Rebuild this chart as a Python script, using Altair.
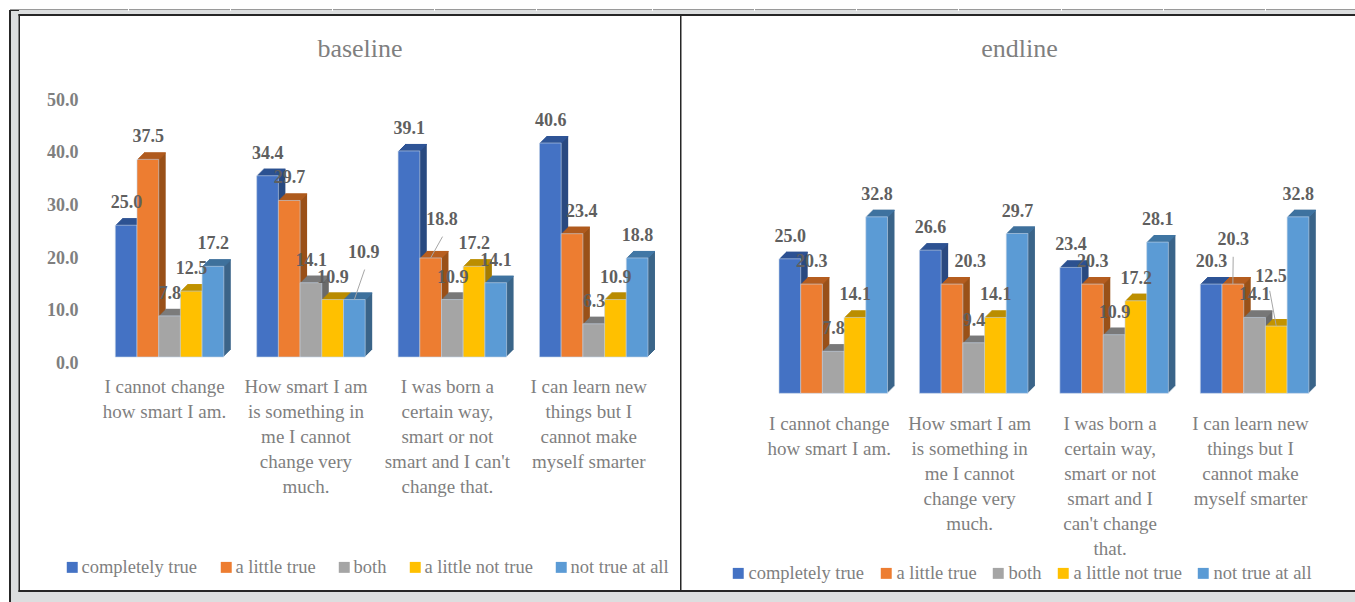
import altair as alt
import pandas as pd

# Answer categories, shared by both survey rounds
series = ["completely true", "a little true", "both", "a little not true", "not true at all"]
front_colors = ["#4472C4", "#ED7D31", "#A5A5A5", "#FFC000", "#5B9BD5"]
top_colors = ["#2F5597", "#B85F20", "#7F7F7F", "#C49500", "#4177A6"]
side_colors = ["#2A4A80", "#9A5119", "#6B6B6B", "#A67D00", "#3B6589"]

# Statements, "|" marks a line break in the axis label
baseline_statements = [
    "I cannot change|how smart I am.",
    "How smart I am|is something in|me I cannot|change very|much.",
    "I was born a|certain way,|smart or not|smart and I can't|change that.",
    "I can learn new|things but I|cannot make|myself smarter",
]
endline_statements = [
    "I cannot change|how smart I am.",
    "How smart I am|is something in|me I cannot|change very|much.",
    "I was born a|certain way,|smart or not|smart and I|can't change|that.",
    "I can learn new|things but I|cannot make|myself smarter",
]

# Percentages, one list per answer, in statement order
baseline_values = [
    [25.0, 34.4, 39.1, 40.6],
    [37.5, 29.7, 18.8, 23.4],
    [7.8, 14.1, 10.9, 6.3],
    [12.5, 10.9, 17.2, 10.9],
    [17.2, 10.9, 14.1, 18.8],
]
endline_values = [
    [25.0, 26.6, 23.4, 20.3],
    [20.3, 20.3, 20.3, 20.3],
    [7.8, 9.4, 10.9, 14.1],
    [14.1, 14.1, 17.2, 12.5],
    [32.8, 29.7, 28.1, 32.8],
]

FONT = "Liberation Serif"
GREY_TEXT = "#7F7F7F"
LABEL_TEXT = "#5F5F5F"
BAND = "#DCDEDF"
INK = "#262626"
BAR_W = 21.7
DEPTH = 7
LABEL_GAP = 22

one_row = alt.Data(values=[{"n": 1}])


def band(x0, x1, y0, y1, color):
    return alt.Chart(one_row).mark_rect(color=color).encode(
        x=alt.value(x0), x2=alt.value(x1), y=alt.value(y0), y2=alt.value(y1)
    )


def panel(title, title_x, statements, values, width, x_range, inner, y_base, y_top,
          y_axis, axis_offset, label_shift, legend_x, legend_y, column_padding, legend_gap,
          nudges, leaders, frame):
    per_unit = (y_base - y_top) / 50.0
    n_cat = len(statements)
    step = (x_range[1] - x_range[0]) / (n_cat - inner)

    extrude, fronts, labels = [], [], []
    for s, name in enumerate(series):
        for c, statement in enumerate(statements):
            v = values[s][c]
            centre = (s + 0.5) * BAR_W
            for k in range(DEPTH, 0, -1):
                lift = k / per_unit
                extrude.append({"statement": statement, "off": centre + k, "y": v + lift,
                                "y2": lift, "shade": side_colors[s]})
                extrude.append({"statement": statement, "off": centre + k, "y": v + lift,
                                "y2": v + (k - 1.2) / per_unit, "shade": top_colors[s]})
            fronts.append({"statement": statement, "off": centre, "value": v, "series": name})
            dx, dy = nudges.get((c, s), (0, 0))
            labels.append({"statement": statement, "off": centre + 0.3 + dx,
                           "y": v + (LABEL_GAP - dy) / per_unit, "value": v})

    x_scale = alt.Scale(domain=statements, range=x_range, paddingInner=inner, paddingOuter=0)
    x_enc = alt.X(
        "statement:N",
        scale=x_scale,
        sort=None,
        axis=alt.Axis(
            title=None, domain=False, ticks=False, labelAngle=0, offset=axis_offset, zindex=1,
            labelPadding=0, labelFont=FONT, labelFontSize=19, labelColor=GREY_TEXT,
            labelLineHeight=25, labelBaseline="top", labelOffset=label_shift, labelLimit=0,
            labelOverlap=False, labelFlush=False, labelExpr="split(datum.label, '|')",
        ),
    )
    y_scale = alt.Scale(domain=[0, 50], range=[y_base, y_top], zero=False, nice=False)
    y_axis_def = (
        alt.Axis(title=None, values=[0, 10, 20, 30, 40, 50], format=".1f", grid=False, domain=False,
                 ticks=False, offset=y_axis, labelPadding=2, labelOffset=6.5, labelFont=FONT, zindex=1,
                 labelFontSize=18, labelFontWeight="bold", labelColor=GREY_TEXT)
        if y_axis is not None else None
    )
    y_enc = alt.Y("y:Q", scale=y_scale, axis=y_axis_def, stack=None)
    off_enc = alt.XOffset("off:Q", scale=alt.Scale(domain=[-200, 200], range=[-200, 200]))

    side_layer = alt.Chart(alt.Data(values=extrude)).mark_bar(width=BAR_W).encode(
        x=x_enc, xOffset=off_enc, y=y_enc, y2="y2:Q",
        color=alt.Color("shade:N", scale=None),
    )
    front_layer = alt.Chart(alt.Data(values=fronts)).mark_bar(
        width=BAR_W, stroke="#C5D3E6", strokeWidth=0.6
    ).encode(
        x=x_enc, xOffset=off_enc,
        y=alt.Y("value:Q", scale=y_scale, axis=y_axis_def, stack=None),
        color=alt.Color(
            "series:N",
            scale=alt.Scale(domain=series, range=front_colors),
            legend=alt.Legend(
                orient="none", legendX=legend_x, legendY=legend_y, direction="horizontal",
                columns=5, title=None, symbolType="square", symbolSize=120, symbolStrokeWidth=0,
                labelFont=FONT, labelFontSize=18.5, labelColor=GREY_TEXT, labelOffset=legend_gap,
                columnPadding=column_padding, labelLimit=0,
            ),
        ),
    )
    text_layer = alt.Chart(alt.Data(values=labels)).mark_text(
        font=FONT, fontSize=18, fontWeight="bold", color=LABEL_TEXT, baseline="middle"
    ).encode(
        x=x_enc, xOffset=off_enc, y=y_enc, text=alt.Text("value:Q", format=".1f"),
    )

    # Thin connectors from relocated value labels back to their bars
    leader_layers = []
    for c, s, lx, ly in leaders:
        v = values[s][c]
        bar_x = x_range[0] + step * c + (s + 0.5) * BAR_W
        bar_y = y_base - v * per_unit
        dx, dy = nudges[(c, s)]
        label_x = bar_x + 0.3 + dx
        label_y = bar_y - LABEL_GAP + dy
        leader_layers.append(
            alt.Chart(one_row).mark_rule(color="#A6A6A6", strokeWidth=1).encode(
                x=alt.value(label_x + lx), x2=alt.value(bar_x),
                y=alt.value(label_y + ly), y2=alt.value(bar_y),
            )
        )

    heading = alt.Chart(alt.Data(values=[{"t": title}])).mark_text(
        font=FONT, fontSize=26, color=GREY_TEXT, baseline="middle"
    ).encode(text="t:N", x=alt.value(title_x), y=alt.value(49))

    return alt.layer(*frame, side_layer, front_layer, *leader_layers, text_layer, heading).properties(
        width=width, height=602
    )


tick_marks = [128, 230, 332, 434, 536, 652, 754, 856, 958, 1061, 1163, 1265]

left_frame = [
    band(10, 680, 10, 602, BAND),
    band(10, 680, 9, 10, "#9A9A9A"),
    band(19, 680, 15, 591, "#FFFFFF"),
    band(9, 11, 10, 602, INK),
    band(9, 19, 10, 11, INK),
    band(18.5, 680, 14, 16, INK),
    band(18.5, 20, 14, 592, INK),
    band(18.5, 680, 590, 592, INK),
] + [band(t, t + 1, 9, 11, "#FFFFFF") for t in tick_marks if t < 680]

right_frame = [
    band(0, 675, 10, 602, BAND),
    band(0, 675, 9, 10, "#9A9A9A"),
    band(0, 675, 15, 591, "#FFFFFF"),
    band(0, 675, 14, 16, INK),
    band(0, 675, 590, 592, INK),
    band(0, 1.5, 14, 592, INK),
] + [band(t - 680, t - 679, 9, 11, "#FFFFFF") for t in tick_marks if t >= 680]

left = panel(
    "baseline", 360, baseline_statements, baseline_values, 680, [115.3, 648.0], 0.2325,
    357, 93.5, -80, -225, -5, 63, 558, 19, 0,
    nudges={(1, 4): (9, -25), (2, 1): (11, -16), (3, 1): (9.5, 0)},
    leaders=[(1, 4, 1, 17), (2, 1, 0.6, 16.7)],
    frame=left_frame,
)
right = panel(
    "endline", 339.5, endline_statements, endline_values, 675, [99.0, 628.7], 0.2283,
    393.3, 124.3, None, -188, -4, 49, 564, 12, 1,
    nudges={(1, 1): (18, 0), (3, 1): (0, -22), (3, 3): (-5.5, -27)},
    leaders=[(3, 1, 0, 16.7), (3, 3, -1.4, 13.7)],
    frame=right_frame,
)

chart = (
    alt.hconcat(left, right, spacing=0, bounds="flush")
    .resolve_scale(color="independent")
    .resolve_legend(color="independent")
    .properties(padding=0, background="#FFFFFF")
    .configure_view(stroke=None)
)

chart.save("out.html", embed_options={"renderer": "svg", "actions": False})
